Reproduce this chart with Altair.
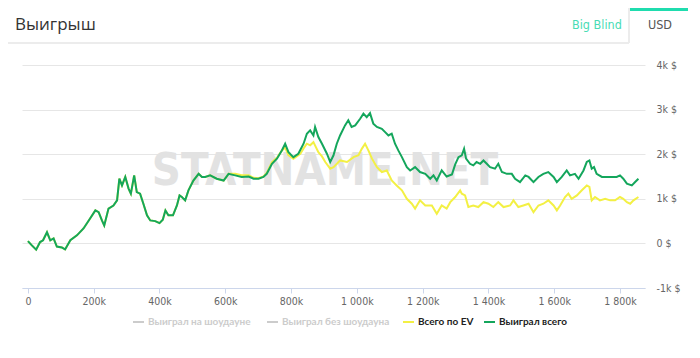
import altair as alt
import pandas as pd

# ---- data (hands in thousands, winnings in $) ----
total_hands = [0, 12, 25, 37, 46, 58, 68, 78, 88, 103, 113, 129, 149, 169, 189, 205, 215, 225, 232, 245,
               260, 271, 278, 286, 296, 306, 313, 323, 331, 341, 351, 362, 372, 387, 400, 410, 418, 427, 441, 453,
               461, 468, 478, 488, 503, 519, 529, 539, 554, 574, 595, 610, 630, 650, 671, 686, 701, 716, 726, 742,
               757, 772, 782, 792, 807, 822, 838, 848, 858, 868, 873, 883, 894, 909, 919, 929, 939, 949, 964, 974,
               984, 995, 1010, 1020, 1030, 1040, 1050, 1061, 1076, 1086, 1096, 1106, 1116, 1126, 1137, 1152, 1162, 1177, 1192, 1208,
               1223, 1233, 1243, 1258, 1273, 1289, 1299, 1309, 1319, 1326, 1332, 1344, 1354, 1364, 1375, 1385, 1395, 1405, 1420, 1430,
               1441, 1456, 1471, 1481, 1496, 1512, 1522, 1537, 1552, 1567, 1582, 1598, 1608, 1623, 1638, 1648, 1663, 1674, 1689, 1699,
               1707, 1714, 1721, 1729, 1745, 1760, 1775, 1790, 1800, 1810, 1821, 1836, 1846, 1856]
total_won = [50, -45, -140, 30, 70, 250, 70, 110, -70, -90, -135, 70, 180, 335, 560, 740, 700, 515, 400, 780,
             850, 965, 1450, 1300, 1490, 1230, 1115, 1525, 1150, 1115, 890, 630, 515, 500, 455, 530, 740, 630, 630, 850,
             1075, 1040, 965, 1190, 1410, 1560, 1490, 1490, 1525, 1450, 1410, 1560, 1525, 1490, 1500, 1450, 1450, 1490, 1560, 1785,
             1900, 2085, 2235, 2045, 1935, 2010, 2235, 2460, 2535, 2420, 2610, 2385, 2235, 2010, 1825, 1975, 2235, 2420, 2645, 2760,
             2610, 2645, 2795, 2910, 2830, 2920, 2685, 2610, 2570, 2495, 2420, 2460, 2235, 2085, 1935, 1710, 1635, 1710, 1600, 1560,
             1450, 1525, 1410, 1640, 1500, 1545, 1770, 1935, 1975, 2120, 1900, 1785, 1750, 1825, 1785, 1860, 1785, 1710, 1675, 1785,
             1600, 1560, 1560, 1450, 1375, 1525, 1490, 1375, 1490, 1560, 1600, 1490, 1375, 1490, 1635, 1525, 1560, 1450, 1635, 1825,
             1860, 1675, 1710, 1560, 1490, 1490, 1490, 1490, 1525, 1450, 1340, 1300, 1375, 1450]

ev_hands = [0, 12, 25, 37, 46, 58, 68, 78, 88, 103, 113, 129, 149, 169, 189, 205, 215, 225, 232, 245,
            260, 271, 278, 286, 296, 306, 313, 323, 331, 341, 351, 362, 372, 387, 400, 410, 418, 427, 441, 453,
            461, 468, 478, 488, 503, 519, 529, 539, 554, 574, 595, 610, 630, 650, 671, 686, 701, 716, 726, 742,
            757, 772, 782, 792, 807, 817, 828, 838, 848, 858, 868, 883, 894, 904, 919, 929, 949, 970, 990, 1005,
            1015, 1025, 1035, 1046, 1061, 1076, 1091, 1106, 1121, 1137, 1152, 1167, 1177, 1192, 1208, 1228, 1243, 1258, 1273, 1284,
            1299, 1314, 1319, 1329, 1339, 1354, 1369, 1385, 1400, 1415, 1430, 1446, 1466, 1476, 1491, 1506, 1522, 1537, 1552, 1567,
            1582, 1598, 1608, 1618, 1633, 1643, 1653, 1669, 1684, 1699, 1707, 1714, 1724, 1739, 1755, 1770, 1785, 1800, 1810, 1821,
            1831, 1841, 1856]
ev_won = [50, -45, -140, 30, 70, 250, 70, 110, -70, -90, -135, 70, 180, 335, 560, 740, 700, 515, 400, 780,
          850, 965, 1450, 1300, 1490, 1230, 1115, 1525, 1150, 1115, 890, 630, 515, 500, 455, 530, 740, 630, 630, 850,
          1075, 1040, 965, 1190, 1410, 1560, 1490, 1490, 1525, 1450, 1410, 1560, 1560, 1530, 1530, 1470, 1460, 1500, 1580, 1820,
          1920, 2085, 2150, 1980, 1900, 1950, 2010, 2130, 2235, 2200, 2270, 2045, 1950, 1825, 1675, 1710, 1860, 1825, 1935, 1975,
          2120, 2235, 2085, 1900, 1710, 1600, 1635, 1410, 1300, 1190, 1000, 890, 780, 965, 850, 850, 665, 850, 780, 925,
          1040, 1190, 1115, 1075, 815, 850, 815, 925, 890, 815, 925, 815, 850, 965, 815, 850, 890, 700, 850, 890,
          965, 850, 740, 850, 1040, 1115, 1000, 1075, 1190, 1300, 1265, 965, 1040, 965, 1000, 965, 965, 1040, 1000, 925,
          890, 965, 1040]

legend_names = ["Выиграл на шоудауне", "Выиграл без шоудауна", "Всего по EV", "Выиграл всего"]
legend_colors = ["#cccccc", "#cccccc", "#f3f044", "#14a65c"]
legend_text_colors = ["#cccccc", "#cccccc", "#222222", "#222222"]

x_ticks = [0, 200, 400, 600, 800, 1000, 1200, 1400, 1600, 1800]
y_ticks = [-1000, 0, 1000, 2000, 3000, 4000]

FONT = "Liberation Sans Narrow, DejaVu Sans Condensed, Liberation Sans, sans-serif"
LEGEND_FONT = "Lato, DejaVu Sans Condensed, sans-serif"
W, H = 623, 223

df_total = pd.DataFrame({"hands": total_hands, "won": total_won})
df_ev = pd.DataFrame({"hands": ev_hands, "won": ev_won})

x_enc = alt.X("hands:Q",
              scale=alt.Scale(domain=[-18, 1876], nice=False, zero=False),
              axis=alt.Axis(values=x_ticks, grid=False, title=None,
                            labelExpr="datum.value == 0 ? '0' : replace(format(datum.value, ','), ',', ' ') + 'k'",
                            domainColor="#ccd6eb", tickColor="#ccd6eb", tickSize=5,
                            labelColor="#666666", labelFontSize=10.5, labelFont=FONT, labelPadding=3))
y_enc = alt.Y("won:Q",
              scale=alt.Scale(domain=[-1000, 4000], nice=False, zero=False),
              axis=alt.Axis(orient="right", values=y_ticks, title=None, domain=False, ticks=False,
                            gridColor="#e6e6e6", gridWidth=1,
                            labelExpr="datum.value == 0 ? '0 $' : (datum.value / 1000) + 'k $'",
                            labelColor="#666666", labelFontSize=10.5, labelFont=FONT,
                            labelPadding=11, labelAlign="left"))

watermark = alt.Chart(pd.DataFrame({"t": ["STATNAME.NET"]})).mark_text(
    font=FONT, fontSize=45, fontWeight="bold", color="#e2e2e2", align="center", baseline="middle"
).encode(text="t:N", x=alt.value(303), y=alt.value(106))

ev_line = alt.Chart(df_ev).mark_line(color=legend_colors[2], strokeWidth=2, interpolate="linear").encode(
    x=x_enc, y=y_enc)
total_line = alt.Chart(df_total).mark_line(color=legend_colors[3], strokeWidth=2, interpolate="linear").encode(
    x="hands:Q", y="won:Q")

# ---- header ----
title = alt.Chart(pd.DataFrame({"t": ["Выигрыш"]})).mark_text(
    font="Open Sans, Liberation Sans, sans-serif", fontSize=17, color="#333333", align="left", baseline="alphabetic"
).encode(text="t:N", x=alt.value(-7), y=alt.value(-35))
tab_bb = alt.Chart(pd.DataFrame({"t": ["Big Blind"]})).mark_text(
    font=FONT, fontSize=12.5, color="#48dcb4", align="left", baseline="alphabetic"
).encode(text="t:N", x=alt.value(550), y=alt.value(-36))
tab_usd = alt.Chart(pd.DataFrame({"t": ["USD"]})).mark_text(
    font=FONT, fontSize=12.5, color="#555555", align="left", baseline="alphabetic"
).encode(text="t:N", x=alt.value(626), y=alt.value(-36))
tab_bar = alt.Chart(pd.DataFrame({"a": [0]})).mark_rect(color="#1fdcae").encode(
    x=alt.value(607), x2=alt.value(666), y=alt.value(-57), y2=alt.value(-54))
header_line = alt.Chart(pd.DataFrame({"a": [0]})).mark_rule(color="#ececec", strokeWidth=2).encode(
    x=alt.value(-14), x2=alt.value(607), y=alt.value(-22))
header_sep = alt.Chart(pd.DataFrame({"a": [0]})).mark_rule(color="#ececec", strokeWidth=2).encode(
    x=alt.value(607), y=alt.value(-57), y2=alt.value(-22))

# ---- legend (manual, Highcharts-like) ----
legend_swatch_x = [111, 245, 381, 462]
legend_layers = []
for name, col, tcol, sx in zip(legend_names, legend_colors, legend_text_colors, legend_swatch_x):
    d = pd.DataFrame({"name": [name]})
    legend_layers.append(alt.Chart(d).mark_rule(color=col, strokeWidth=2).encode(
        x=alt.value(sx), x2=alt.value(sx + 11), y=alt.value(257)))
    legend_layers.append(alt.Chart(d).mark_text(
        font=LEGEND_FONT, fontSize=10, fontWeight="bold", color=tcol, align="left", baseline="middle"
    ).encode(text="name:N", x=alt.value(sx + 15), y=alt.value(257)))

chart = alt.layer(
    watermark, ev_line, total_line, title, tab_bb, tab_usd, tab_bar, header_line, header_sep, *legend_layers
).properties(
    width=W, height=H,
    autosize=alt.AutoSizeParams(type="none"),
    padding={"left": 14, "top": 57, "right": 43, "bottom": 54},
    background="white"
).configure_view(stroke=None)

chart.save("out.html", embed_options={"renderer": "svg", "actions": False})
